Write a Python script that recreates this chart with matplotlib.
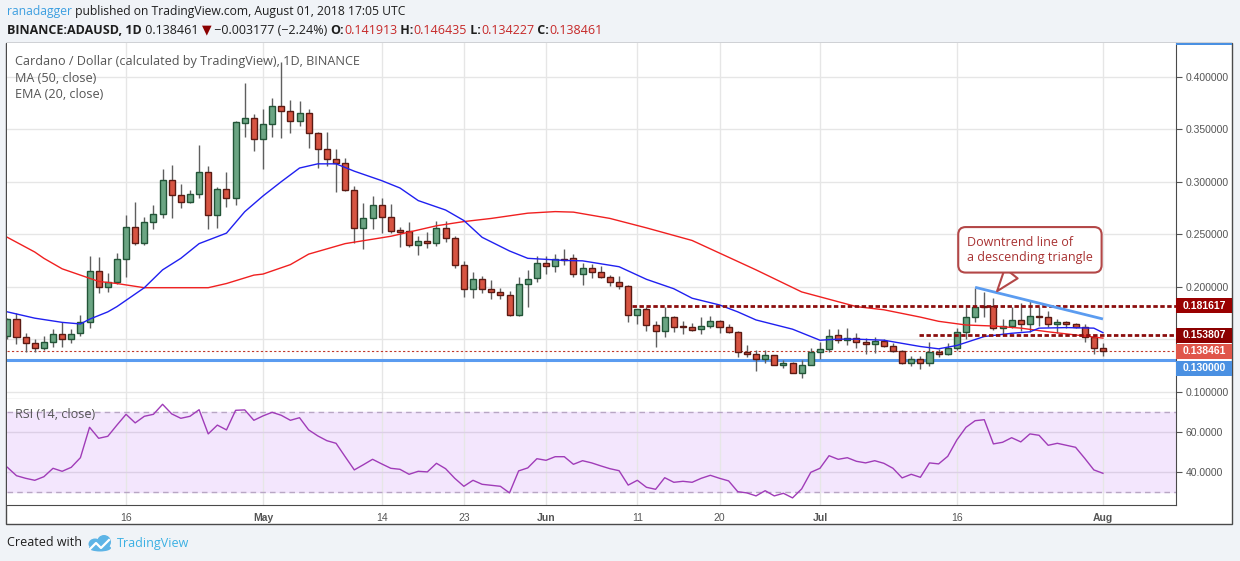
import numpy as np
import pandas as pd
import matplotlib
matplotlib.use("Agg")
import matplotlib.pyplot as plt
from matplotlib.patches import Rectangle, Ellipse
from matplotlib.transforms import blended_transform_factory, offset_copy, IdentityTransform

W, H = 1240, 561
UI_FONT = ["Open Sans", "DejaVu Sans"]
AXIS_FONT = ["Liberation Sans", "DejaVu Sans"]

# ---- data (ADA/USD daily, Binance) ----
dates = pd.date_range("2018-04-03", "2018-08-01", freq="D")

opens = [0.153, 0.169, 0.152, 0.146, 0.142, 0.147, 0.155, 0.150, 0.156, 0.166,
         0.215, 0.200, 0.204, 0.226, 0.2565, 0.242, 0.262, 0.269, 0.3016, 0.287,
         0.281, 0.288, 0.309, 0.268, 0.293, 0.284, 0.356, 0.361, 0.341, 0.355,
         0.372, 0.367, 0.358, 0.365, 0.346, 0.331, 0.322, 0.318, 0.292, 0.2556,
         0.265, 0.2775, 0.266, 0.254, 0.253, 0.2394, 0.2436, 0.242, 0.2556, 0.246,
         0.2206, 0.1975, 0.207, 0.1975, 0.195, 0.192, 0.173, 0.2022, 0.208, 0.223,
         0.220, 0.226, 0.227, 0.212, 0.218, 0.214, 0.2095, 0.204, 0.2003, 0.1727,
         0.1784, 0.1633, 0.158, 0.1708, 0.1614, 0.162, 0.160, 0.163, 0.167, 0.1614,
         0.157, 0.1375, 0.136, 0.1308, 0.1346, 0.1257, 0.1276, 0.1182, 0.1257, 0.1375,
         0.141, 0.154, 0.149, 0.151, 0.147, 0.145, 0.148, 0.1438, 0.139, 0.1276,
         0.131, 0.127, 0.1375, 0.136, 0.142, 0.1566, 0.171, 0.1815, 0.1815, 0.1605,
         0.1625, 0.1686, 0.164, 0.172, 0.1715, 0.164, 0.166, 0.164, 0.162, 0.1525,
         0.141913]
highs = [0.170, 0.175, 0.156, 0.150, 0.153, 0.160, 0.166, 0.160, 0.173, 0.229,
         0.228, 0.213, 0.232, 0.268, 0.281, 0.266, 0.2775, 0.312, 0.316, 0.298,
         0.292, 0.335, 0.315, 0.295, 0.309, 0.358, 0.394, 0.364, 0.369, 0.380,
         0.414, 0.378, 0.377, 0.369, 0.347, 0.347, 0.331, 0.323, 0.296, 0.280,
         0.2864, 0.284, 0.279, 0.257, 0.262, 0.248, 0.252, 0.263, 0.263, 0.248,
         0.224, 0.2135, 0.210, 0.206, 0.199, 0.196, 0.209, 0.216, 0.229, 0.229,
         0.231, 0.236, 0.231, 0.223, 0.222, 0.220, 0.211, 0.210, 0.202, 0.1785,
         0.181, 0.167, 0.181, 0.172, 0.167, 0.165, 0.171, 0.172, 0.168, 0.164,
         0.158, 0.144, 0.140, 0.1397, 0.1348, 0.130, 0.128, 0.130, 0.142, 0.1473,
         0.160, 0.160, 0.161, 0.156, 0.151, 0.152, 0.150, 0.146, 0.1397, 0.134,
         0.1335, 0.147, 0.141, 0.146, 0.1605, 0.181, 0.199, 0.1945, 0.189, 0.169,
         0.181, 0.184, 0.187, 0.181, 0.177, 0.169, 0.167, 0.165, 0.164, 0.153,
         0.146435]
lows = [0.150, 0.145, 0.138, 0.138, 0.140, 0.143, 0.143, 0.146, 0.153, 0.161,
        0.194, 0.195, 0.203, 0.209, 0.240, 0.240, 0.255, 0.265, 0.265, 0.275,
        0.280, 0.284, 0.255, 0.256, 0.276, 0.278, 0.343, 0.329, 0.312, 0.343,
        0.342, 0.346, 0.353, 0.332, 0.313, 0.315, 0.2905, 0.291, 0.242, 0.2356,
        0.255, 0.251, 0.251, 0.2375, 0.2375, 0.230, 0.237, 0.239, 0.243, 0.2175,
        0.1905, 0.189, 0.194, 0.1885, 0.1885, 0.172, 0.172, 0.181, 0.204, 0.212,
        0.214, 0.221, 0.209, 0.202, 0.208, 0.208, 0.201, 0.198, 0.1667, 0.164,
        0.158, 0.1425, 0.1524, 0.157, 0.155, 0.158, 0.155, 0.161, 0.156, 0.156,
        0.1327, 0.133, 0.120, 0.127, 0.125, 0.123, 0.118, 0.1133, 0.125, 0.131,
        0.138, 0.146, 0.144, 0.142, 0.1355, 0.137, 0.143, 0.138, 0.126, 0.1245,
        0.122, 0.124, 0.133, 0.135, 0.140, 0.150, 0.166, 0.1715, 0.159, 0.1535,
        0.161, 0.158, 0.157, 0.163, 0.162, 0.156, 0.161, 0.1605, 0.147, 0.1355,
        0.134227]
closes = [0.169, 0.152, 0.146, 0.142, 0.147, 0.155, 0.150, 0.155, 0.166, 0.215,
          0.200, 0.204, 0.226, 0.2565, 0.242, 0.262, 0.269, 0.3016, 0.287, 0.281,
          0.288, 0.309, 0.268, 0.293, 0.284, 0.3565, 0.361, 0.341, 0.3546, 0.372,
          0.367, 0.358, 0.365, 0.346, 0.331, 0.322, 0.318, 0.292, 0.2556, 0.265,
          0.2775, 0.266, 0.2533, 0.252, 0.2394, 0.2436, 0.242, 0.2556, 0.246, 0.2206,
          0.1975, 0.207, 0.1975, 0.195, 0.192, 0.173, 0.2022, 0.207, 0.223, 0.220,
          0.226, 0.2255, 0.212, 0.218, 0.214, 0.2095, 0.204, 0.2003, 0.1727, 0.1784,
          0.1633, 0.158, 0.1708, 0.1614, 0.1612, 0.159, 0.163, 0.167, 0.1614, 0.157,
          0.1375, 0.136, 0.1308, 0.1346, 0.1257, 0.1276, 0.1182, 0.1257, 0.1375, 0.141,
          0.153, 0.149, 0.151, 0.147, 0.145, 0.148, 0.1438, 0.139, 0.1276, 0.131,
          0.127, 0.1375, 0.136, 0.142, 0.1566, 0.171, 0.181, 0.181, 0.1605, 0.163,
          0.1686, 0.164, 0.172, 0.1715, 0.164, 0.166, 0.164, 0.162, 0.1525, 0.1419,
          0.138461]

# moving averages sampled from the chart (day index, value)
ma50_days = [0, 3, 4, 6, 8, 10, 12, 15, 22, 24, 27, 28, 31, 33, 37, 42, 47, 50, 53,
             57, 60, 62, 66, 70, 75, 78, 82, 87, 90, 93, 96, 100, 102, 105, 108,
             111, 114, 118, 120]
ma50_vals = [0.247, 0.233, 0.227, 0.217, 0.211, 0.205, 0.203, 0.199, 0.199, 0.203,
             0.211, 0.212, 0.221, 0.231, 0.241, 0.248, 0.258, 0.262, 0.265, 0.270,
             0.2715, 0.271, 0.265, 0.256, 0.244, 0.232, 0.216, 0.195, 0.188, 0.181,
             0.178, 0.171, 0.167, 0.1635, 0.1625, 0.1605, 0.157, 0.153, 0.151]
ema20_days = [0, 3, 6, 8, 9, 11, 12, 15, 17, 19, 21, 24, 26, 28, 30, 32, 34, 36, 38,
              41, 43, 45, 48, 50, 52, 55, 57, 59, 61, 63, 67, 70, 73, 75, 78, 80,
              82, 86, 89, 91, 93, 96, 98, 100, 102, 104, 107, 110, 112, 113, 116,
              119, 120]
ema20_vals = [0.176, 0.170, 0.166, 0.1645, 0.169, 0.176, 0.181, 0.199, 0.216, 0.227,
              0.241, 0.251, 0.2714, 0.2864, 0.300, 0.313, 0.317, 0.317, 0.310, 0.301,
              0.294, 0.282, 0.273, 0.263, 0.247, 0.234, 0.227, 0.226, 0.225, 0.2246,
              0.219, 0.207, 0.198, 0.189, 0.1826, 0.176, 0.1683, 0.1595, 0.149, 0.150,
              0.150, 0.149, 0.146, 0.143, 0.1408, 0.144, 0.1525, 0.1556, 0.157, 0.1605,
              0.161, 0.1605, 0.1562]

rsi_vals = [42.2, 38.0, 36.7, 35.7, 37.5, 41.7, 40.2, 42.2, 47.0, 62.2,
            56.7, 57.7, 63.3, 68.7, 64.4, 67.7, 68.7, 73.7, 68.9, 66.7,
            67.7, 71.0, 58.9, 63.3, 60.9, 70.7, 70.9, 65.7, 67.9, 69.7,
            68.2, 65.7, 67.0, 60.9, 57.9, 55.5, 54.2, 47.5, 40.9, 43.5,
            46.2, 43.9, 41.7, 41.2, 38.7, 40.2, 39.9, 44.2, 41.5, 36.7,
            32.7, 35.7, 33.7, 33.2, 32.7, 29.4, 40.4, 41.9, 46.5, 45.7,
            47.5, 47.5, 43.7, 45.5, 44.4, 42.9, 41.5, 40.5, 33.3, 35.7,
            32.2, 31.2, 37.0, 34.7, 35.2, 34.7, 36.7, 38.2, 36.7, 35.4,
            30.0, 29.4, 27.9, 30.5, 27.9, 29.2, 26.9, 31.4, 39.7, 41.7,
            48.0, 46.2, 47.0, 45.2, 44.4, 45.5, 44.2, 41.7, 36.9, 38.7,
            37.2, 44.4, 43.9, 47.7, 55.9, 62.2, 65.5, 66.0, 53.9, 54.7,
            57.0, 54.9, 58.9, 58.2, 53.2, 54.2, 53.2, 52.2, 46.7, 40.9,
            39.2]

# drawn levels and trend line
resistance = 0.181617
resistance_from = 68.4
support = 0.153807
support_from = 99.8
base_level = 0.130000
last_close = 0.138461
trend_days = [106, 120]
trend_vals = [0.1994, 0.1692]

tick_dates = ["2018-04-16", "2018-05-01", "2018-05-14", "2018-05-23", "2018-06-01",
              "2018-06-11", "2018-06-20", "2018-07-01", "2018-07-16", "2018-08-01"]
tick_labels = ["16", "May", "14", "23", "Jun", "11", "20", "Jul", "16", "Aug"]
price_ticks = [0.10, 0.15, 0.20, 0.25, 0.30, 0.35, 0.40]
rsi_ticks = [40, 60]

# ---- colours ----
BG = "#f0f3f7"
GRID = "#e6e6e6"
UP, UP_EDGE = "#6ba583", "#225437"
DN, DN_EDGE = "#d75442", "#5b1a13"
WICK = "#5f5f5f"
DARK_RED = "#8b0d0d"
BLUE_LINE = "#5b9cf0"
TEXT_GREY = "#555555"


def fx(x):
    return x / W


def fy(y):
    return 1 - y / H


fig = plt.figure(figsize=(W / 100, H / 100), dpi=100, facecolor=BG)
renderer = fig.canvas.get_renderer()

# outer white panel (behind the axes)
fig.patches.append(Rectangle((fx(6), fy(524)), fx(1232 - 6), (524 - 43) / H,
                             transform=fig.transFigure, facecolor="white",
                             edgecolor="#4a4a4a", lw=1, zorder=-5))
fig.patches.append(Rectangle((fx(1176), fy(45)), fx(1232 - 1176), 2 / H,
                             transform=fig.transFigure, facecolor="#4a90e2",
                             edgecolor="none", zorder=1))

ax = fig.add_axes([fx(7), fy(399), fx(1176 - 7), (399 - 43) / H])
ax2 = fig.add_axes([fx(7), fy(505), fx(1176 - 7), (505 - 399) / H], sharex=ax)

x = np.arange(len(dates))
o = np.array(opens)
c = np.array(closes)
hi = np.array(highs)
lo = np.array(lows)
tick_pos = [dates.get_loc(pd.Timestamp(d)) for d in tick_dates]

for a in (ax, ax2):
    a.set_facecolor("white")
    for s in ("left", "top"):
        a.spines[s].set_visible(False)
    for s in ("right", "bottom"):
        a.spines[s].set_color("#4a4a4a")
    a.yaxis.tick_right()
    a.set_xticks(tick_pos)
    a.grid(True, color=GRID, lw=1)
    a.set_axisbelow(True)
    a.tick_params(axis="y", direction="out", length=4, color=TEXT_GREY,
                  labelsize=7.5, labelcolor=TEXT_GREY, pad=3)

ax.set_xlim(-0.04, 128.0)
ax.set_ylim(0.0930, 0.4321)
ax.set_yticks(price_ticks)
# the 0.15 label sits under the level tags, as on the original
ax.set_yticklabels(["" if abs(v - 0.15) < 1e-9 else f"{v:.6f}" for v in price_ticks],
                   family=AXIS_FONT)
ax.tick_params(axis="x", length=0, labelbottom=False)

# candles
up = c >= o
ax.vlines(x, lo, hi, color=WICK, lw=1, zorder=3)
body_low = np.minimum(o, c)
body_h = np.maximum(np.abs(c - o), 0.0009)
ax.bar(x[up], body_h[up], bottom=body_low[up], width=0.66, color=UP,
       edgecolor=UP_EDGE, lw=1, zorder=4)
ax.bar(x[~up], body_h[~up], bottom=body_low[~up], width=0.66, color=DN,
       edgecolor=DN_EDGE, lw=1, zorder=4)

# moving averages
ax.plot(ma50_days, ma50_vals, color="#f02020", lw=1, zorder=5)
ax.plot(ema20_days, ema20_vals, color="#2020f0", lw=1, zorder=5)

# horizontal levels
xmax = ax.get_xlim()[1]
ax.axhline(base_level, color=BLUE_LINE, lw=2.2, zorder=2)
ax.axhline(last_close, color="#c0392b", lw=0.8, ls=(0, (2, 2)), zorder=2)
ax.hlines(resistance, resistance_from, xmax, color=DARK_RED, lw=2,
          ls=(0, (1.6, 0.9)), zorder=6)
ax.hlines(support, support_from, xmax, color=DARK_RED, lw=2,
          ls=(0, (1.6, 0.9)), zorder=6)
ax.plot(trend_days, trend_vals, color=BLUE_LINE, lw=2, zorder=6,
        solid_capstyle="butt")

# callout
ax.annotate("Downtrend line of\na descending triangle",
            xy=(108.4, 0.1957), xytext=(112.0, 0.2351), textcoords="data",
            ha="center", va="center", multialignment="left",
            color="#a83232", fontsize=9, family=UI_FONT, zorder=8,
            bbox=dict(boxstyle="round,pad=0.7,rounding_size=0.6", fc="white",
                      ec="#b34747", lw=1.5),
            arrowprops=dict(arrowstyle="wedge,tail_width=1.3,shrink_factor=0.5",
                            fc="white", ec="#b34747", lw=1.5,
                            shrinkA=0, shrinkB=0))

# price tags on the right scale
trans = blended_transform_factory(ax.transAxes, ax.transData)
tag_w = (1232 - 1176) / (1176 - 7)
tag_h = 15 / (356 / (0.4321 - 0.0930))


def price_tag(val, color, dy=0):
    t = offset_copy(trans, fig=fig, x=0, y=dy, units="dots")
    ax.add_patch(Rectangle((1.0, val - tag_h / 2), tag_w, tag_h, transform=t,
                           facecolor=color, edgecolor="none", clip_on=False,
                           zorder=20))
    ax.text(1.0 + 7 / (1176 - 7), val, f"{val:.6f}", transform=t, color="white",
            fontweight="bold", fontsize=7.5, family=AXIS_FONT, va="center",
            ha="left", clip_on=False, zorder=21)


price_tag(resistance, "#990000")
price_tag(support, "#8b0000")
price_tag(last_close, "#e0564a")
price_tag(base_level, "#4a90e2", dy=-8)

# RSI panel
ax2.set_ylim(23.35, 76.35)
ax2.axhspan(30, 70, color="#f3e6fd", zorder=0)
ax2.axhline(70, color="#b8a6c4", lw=1, ls=(0, (4, 3)), zorder=1)
ax2.axhline(30, color="#b8a6c4", lw=1, ls=(0, (4, 3)), zorder=1)
ax2.set_yticks(rsi_ticks)
ax2.set_yticklabels([f"{v:.4f}" for v in rsi_ticks], family=AXIS_FONT)
ax2.grid(True, axis="y", color="#dccfe6", lw=1)
ax2.plot(x, rsi_vals, color="#a03cb8", lw=1, zorder=4)
ax2.set_xticklabels(tick_labels)
ax2.tick_params(axis="x", length=0, pad=6, labelsize=7.5, labelcolor=TEXT_GREY)
for lab in ax2.get_xticklabels():
    lab.set_family(AXIS_FONT)
    if not lab.get_text().isdigit():
        lab.set_fontweight("bold")

# legends inside panels
for txt, yy in [("Cardano / Dollar (calculated by TradingView), 1D, BINANCE", 61),
                ("MA (50, close)", 78), ("EMA (20, close)", 95),
                ("RSI (14, close)", 415)]:
    fig.text(fx(15), fy(yy), txt, color=TEXT_GREY, fontsize=9.1, family=UI_FONT,
             va="center", ha="left")


def text_runs(x0, y, parts, size):
    for s, color, weight in parts:
        t = fig.text(fx(x0), fy(y), s, color=color, fontsize=size, fontweight=weight,
                     family=UI_FONT, va="center", ha="left")
        x0 += t.get_window_extent(renderer).width


INK = "#1e1e1e"
RED = "#c62828"
text_runs(7, 12, [("ranadagger", "#3d9fe0", "normal"),
                  (" published on TradingView.com, August 01, 2018 17:05 UTC", INK, "normal")], 8.7)
text_runs(7, 30, [("BINANCE:ADAUSD, 1D", INK, "bold"),
                  (" 0.138461 ", INK, "normal"),
                  ("\u25BC", "#8b0000", "normal"),
                  (" \u22120.003177 (\u22122.24%) ", INK, "normal"),
                  ("O:", INK, "bold"), ("0.141913", RED, "normal"),
                  (" H:", INK, "bold"), ("0.146435", RED, "normal"),
                  (" L:", INK, "bold"), ("0.134227", RED, "normal"),
                  (" C:", INK, "bold"), ("0.138461", RED, "normal")], 9)

# footer
text_runs(7, 543, [("Created with", INK, "normal")], 9)
ident = IdentityTransform()
logo = "#5db4e6"
for cx, cy, w, h in [(95, 561 - 544, 13, 11), (104, 561 - 542, 14, 14),
                     (100, 561 - 548, 22, 7)]:
    fig.patches.append(Ellipse((cx, cy), w, h, transform=ident, facecolor=logo,
                               edgecolor="none", zorder=5))
fig.lines.append(plt.Line2D([90, 96, 101, 109], [561 - 549, 561 - 543, 561 - 548, 561 - 540],
                            transform=ident, color="white", lw=1.6, zorder=6))
text_runs(117, 543, [("TradingView", "#3bb0e3", "normal")], 9)

fig.savefig("out.png", dpi=100, facecolor=BG)
